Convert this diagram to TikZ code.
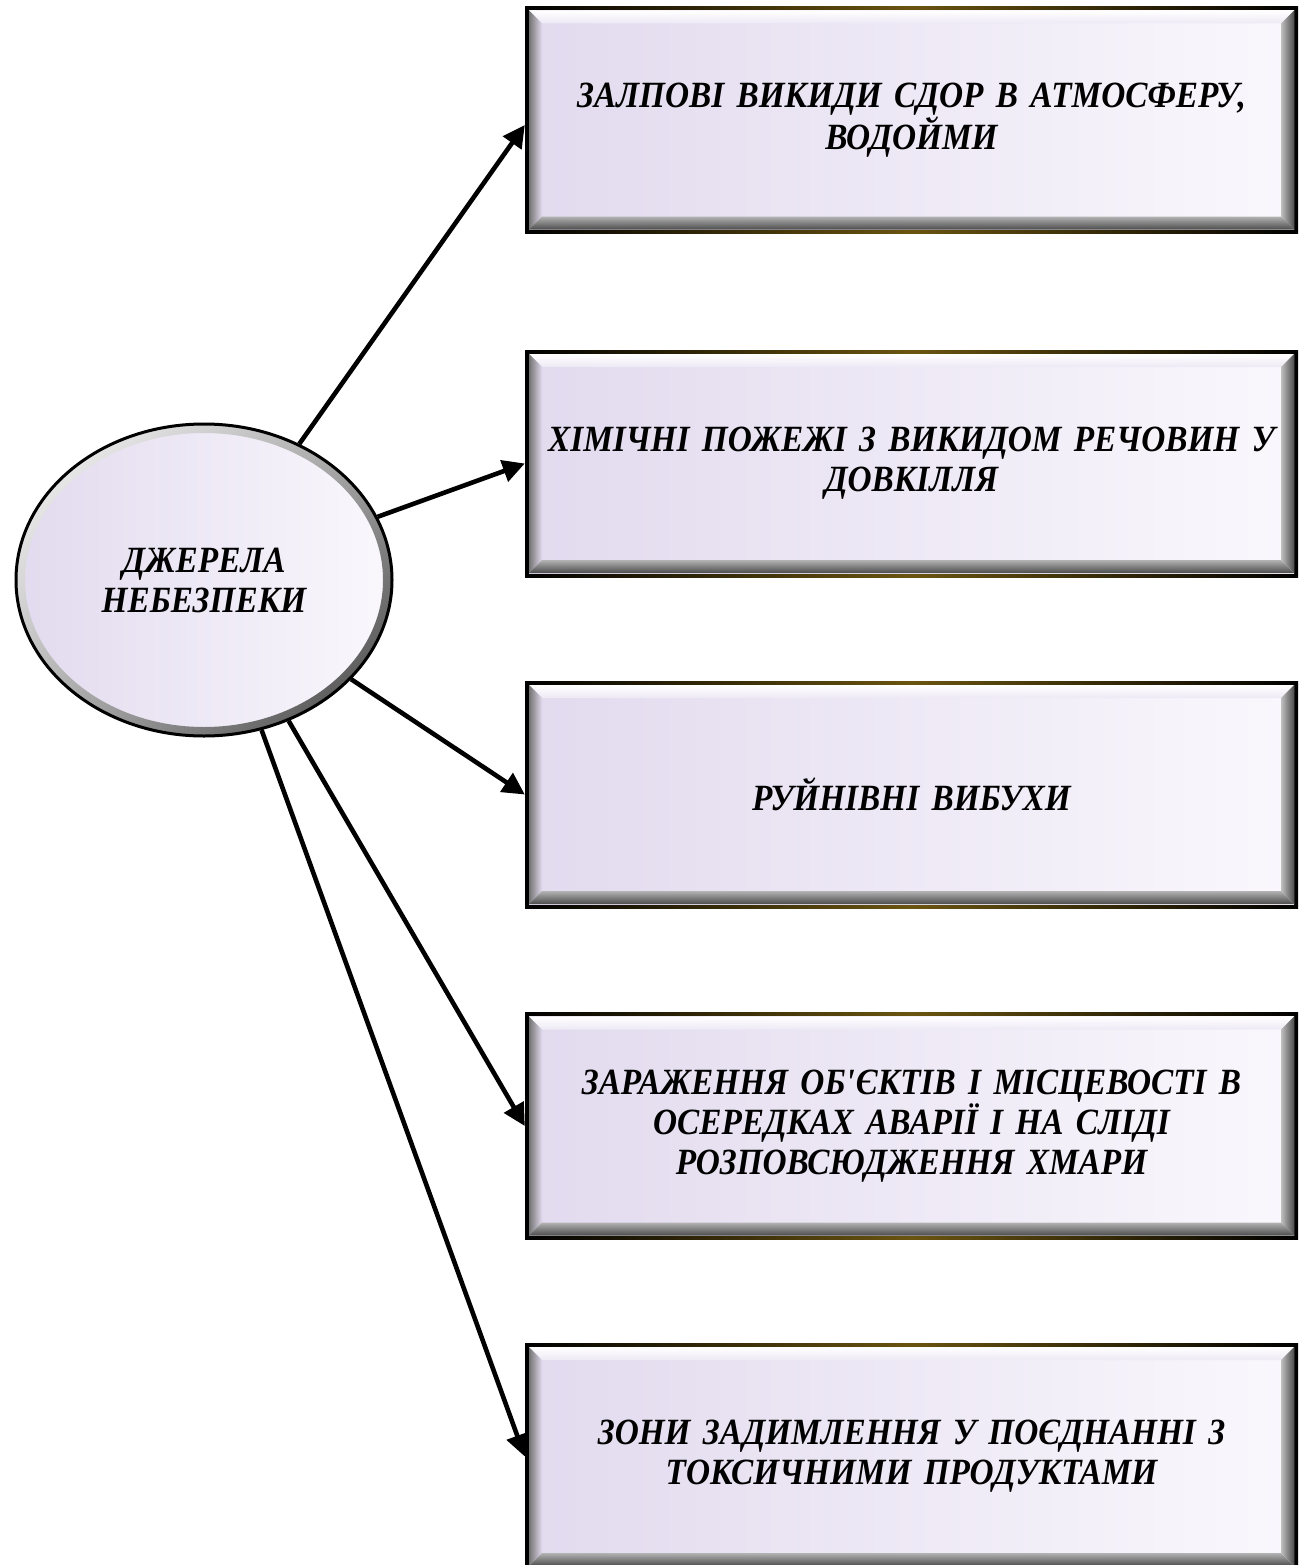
\documentclass[tikz,border=0pt]{standalone}
\usepackage{fontspec}
\setmainfont{Liberation Serif}[FakeStretch=0.9]
\usetikzlibrary{shapes.geometric,arrows.meta,calc,shadings}
\definecolor{faceL}{HTML}{E2DAEE}
\definecolor{faceR}{HTML}{FAF8FD}
\definecolor{rimgold}{HTML}{6A5410}
\tikzset{
  lbl/.style={font=\bfseries\itshape\fontsize{37}{40}\selectfont, align=center, text=black},
  bevelbox/.style={lbl, rectangle, minimum width=773pt, minimum height=227pt, inner sep=0pt,
    text width=760pt,
    path picture={
      \shade[left color=black, right color=black, middle color=rimgold]
        (path picture bounding box.south west) rectangle (path picture bounding box.north east);
      \coordinate (pA) at ($(path picture bounding box.north west)+(4pt,-4pt)$);
      \coordinate (pB) at ($(path picture bounding box.north east)+(-4pt,-4pt)$);
      \coordinate (pC) at ($(path picture bounding box.south east)+(-4pt,4pt)$);
      \coordinate (pD) at ($(path picture bounding box.south west)+(4pt,4pt)$);
      \coordinate (qA) at ($(pA)+(13pt,-13pt)$);
      \coordinate (qB) at ($(pB)+(-13pt,-13pt)$);
      \coordinate (qC) at ($(pC)+(-13pt,13pt)$);
      \coordinate (qD) at ($(pD)+(13pt,13pt)$);
      \shade[left color=faceL, right color=faceR] (pD) rectangle (pB);
      \shade[top color=white, bottom color=faceL!60!white] (pA)--(pB)--(qB)--(qA)--cycle;
      \shade[left color=black!55, right color=faceL] (pA)--(qA)--(qD)--(pD)--cycle;
      \shade[top color=black!30, bottom color=black!70] (pD)--(qD)--(qC)--(pC)--cycle;
      \shade[left color=black!25, right color=black!70] (pB)--(pC)--(qC)--(qB)--cycle;
    }},
  srcnode/.style={lbl, ellipse, minimum width=376pt, minimum height=312pt, inner sep=0pt,
    path picture={
      \shade[left color=faceL, right color=faceR]
        (path picture bounding box.south west) rectangle (path picture bounding box.north east);
      \shade[even odd rule, upper left=white, upper right=black!35, lower left=black!30, lower right=black!75]
        (path picture bounding box.center) ellipse [x radius=188pt, y radius=156pt]
        (path picture bounding box.center) ellipse [x radius=179pt, y radius=147pt];
    },
    draw=black, line width=3pt},
  conn/.style={line width=4.6pt, draw=black, -{Triangle[length=22pt,width=22pt]}}
}
\begin{document}
\begin{tikzpicture}[x=1pt,y=-1pt]
\useasboundingbox (0,0) rectangle (1307,1565);
\node[srcnode] (src) at (204,580) {ДЖЕРЕЛА\\НЕБЕЗПЕКИ};
\node[bevelbox] (b1) at (911.5,120) {ЗАЛПОВІ ВИКИДИ СДОР В АТМОСФЕРУ,\\ ВОДОЙМИ};
\node[bevelbox] (b2) at (911.5,463.5) {ХІМІЧНІ ПОЖЕЖІ З ВИКИДОМ РЕЧОВИН У\\ ДОВКІЛЛЯ};
\node[bevelbox] (b3) at (911.5,794.5) {РУЙНІВНІ ВИБУХИ};
\node[bevelbox] (b4) at (911.5,1126) {ЗАРАЖЕННЯ ОБ\textquotesingle ЄКТІВ І МІСЦЕВОСТІ В\\ ОСЕРЕДКАХ АВАРІЇ І НА СЛІДІ\\ РОЗПОВСЮДЖЕННЯ ХМАРИ};
\node[bevelbox] (b5) at (911.5,1456.5) {ЗОНИ ЗАДИМЛЕННЯ У ПОЄДНАННІ З\\ ТОКСИЧНИМИ ПРОДУКТАМИ};
\draw[conn] (src.55.6) -- ([yshift=-5pt]b1.west);
\draw[conn] (src.20.4) -- (b2.west);
\draw[conn] (src.-34.2) -- (b3.west);
\draw[conn] (src.-59) -- (b4.west);
\draw[conn] (src.-69.6) -- (b5.west);
\end{tikzpicture}
\end{document}
